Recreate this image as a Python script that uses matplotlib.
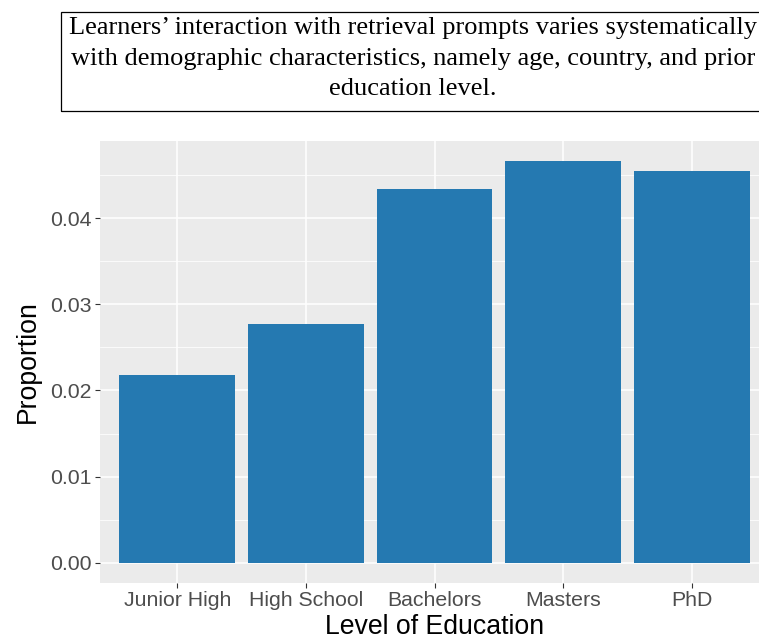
import numpy as np
import matplotlib.pyplot as plt
from matplotlib.patches import Rectangle

# Data
levels = ['Junior High', 'High School', 'Bachelors', 'Masters', 'PhD']
proportion = [0.0218, 0.0277, 0.0434, 0.0466, 0.0455]

title_lines = [
    "Learners\u2019 interaction with retrieval prompts varies systematically",
    "with demographic characteristics, namely age, country, and prior",
    "education level.",
]

W, H = 759, 639
fig = plt.figure(figsize=(W / 100, H / 100), dpi=100)

# Panel placement in pixels (panel runs past the right edge of the image)
left, right, top, bottom = 100, 769, 141, 583
ax = fig.add_axes([left / W, (H - bottom) / H, (right - left) / W, (bottom - top) / H])

x = np.arange(1, len(levels) + 1)
ax.set_facecolor('#EBEBEB')
ax.bar(x, proportion, width=0.9, color='#2579B1', zorder=3)

# ggplot-like scales
ymax = max(proportion)
ax.set_ylim(-0.05 * ymax, 1.05 * ymax)
ax.set_xlim(0.4, len(levels) + 0.6)
ax.set_yticks([0.0, 0.01, 0.02, 0.03, 0.04])
ax.set_yticklabels(['0.00', '0.01', '0.02', '0.03', '0.04'])
ax.set_yticks([0.005, 0.015, 0.025, 0.035, 0.045], minor=True)
ax.set_xticks(x)
ax.set_xticklabels(levels)

ax.grid(True, which='major', color='white', linewidth=1.1, zorder=1)
ax.grid(True, which='minor', axis='y', color='white', linewidth=0.55, zorder=1)
for s in ax.spines.values():
    s.set_visible(False)

ax.tick_params(axis='both', which='major', length=3.5, width=0.8, color='#333333',
               labelcolor='#4D4D4D', labelsize=15.3, pad=2.5)
ax.tick_params(axis='y', which='minor', length=0)
for lab in ax.get_xticklabels() + ax.get_yticklabels():
    lab.set_family('Liberation Sans')

ax.set_xlabel('Level of Education', fontsize=19.2, family='Liberation Sans', labelpad=3)
ax.set_ylabel('Proportion', fontsize=19.2, family='Liberation Sans', labelpad=6.5)

# Boxed caption at the top (box runs past the right edge like the panel)
box_l, box_r, box_t, box_b = 61, 800, 12, 111
fig.patches.append(Rectangle((box_l / W, (H - box_b) / H), (box_r - box_l) / W,
                             (box_b - box_t) / H, transform=fig.transFigure,
                             fill=False, edgecolor='black', linewidth=0.9))
cx = 413 / W
for i, line in enumerate(title_lines):
    fig.text(cx, (H - (28 + 30.5 * i)) / H, line, ha='center', va='center',
             family='Liberation Serif', fontsize=19)

fig.savefig('out.png', dpi=100)
